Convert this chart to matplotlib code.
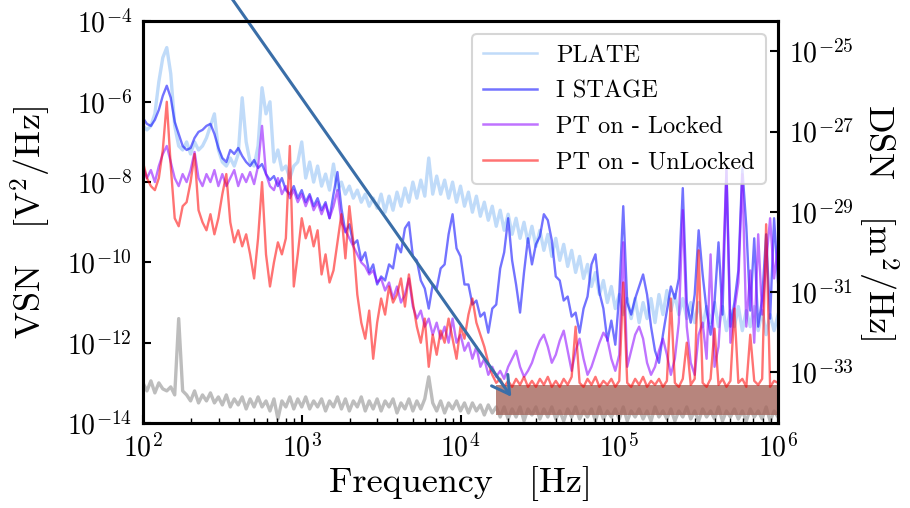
import numpy as np
import matplotlib
matplotlib.use('Agg')
import matplotlib.pyplot as plt
from matplotlib.ticker import LogLocator, NullLocator

plt.rcParams['font.family'] = 'cmr10'
plt.rcParams['mathtext.fontset'] = 'cm'
plt.rcParams['axes.formatter.use_mathtext'] = True

# frequency grid: 40 samples per decade, 1e2 .. 1e6 Hz
log_f = np.linspace(2, 6, 161)

# log10 of the spectra
plate_log = [
    -6.6, -6.7, -6.6, -6.3, -5.5, -4.9, -4.65, -5.3, -6.6, -7.1,
    -7.2, -7.0, -7.3, -7.0, -7.2, -7.1, -6.9, -6.6, -6.3, -7.2,
    -7.5, -7.6, -7.4, -7.6, -7.3, -5.9, -7.0, -7.5, -7.6, -7.1,
    -5.65, -6.3, -6.0, -7.5, -7.2, -7.7, -7.6, -7.9, -7.6, -7.5,
    -7.0, -7.9, -7.5, -8.0, -7.6, -8.1, -7.8, -8.2, -7.55, -8.2,
    -8.0, -8.3, -8.1, -8.4, -8.2, -8.5, -8.3, -8.6, -8.4, -8.65,
    -8.3, -8.75, -8.35, -8.7, -8.25, -8.6, -8.15, -8.5, -8.0, -8.4,
    -7.95, -8.35, -7.4, -8.3, -7.85, -8.3, -7.95, -8.4, -8.0, -8.5,
    -8.1, -8.6, -8.25, -8.75, -8.35, -8.85, -8.5, -8.95, -8.6, -9.1,
    -8.7, -9.2, -8.8, -9.3, -8.9, -9.4, -9.0, -9.5, -9.1, -9.6,
    -9.2, -9.7, -9.3, -9.85, -9.4, -9.95, -9.55, -10.1, -9.7, -10.25,
    -9.85, -10.4, -10.05, -10.6, -10.25, -10.8, -10.45, -11.0, -10.6, -11.15,
    -10.8, -11.3, -10.9, -11.4, -10.9, -11.5, -11.0, -11.4, -10.9, -11.5,
    -10.8, -11.3, -10.7, -11.2, -10.8, -11.3, -10.9, -11.4, -11.0, -11.5,
    -11.0, -11.6, -11.1, -11.5, -11.0, -11.6, -11.1, -11.7, -11.2, -11.6,
    -11.1, -11.7, -11.2, -11.6, -11.1, -11.7, -11.2, -11.8, -11.3, -11.7,
    -11.3,
]
stage_log = [
    -6.4, -6.55, -6.6, -6.45, -6.2, -5.85, -5.6, -5.9, -6.5, -6.8,
    -7.1, -7.2, -7.15, -6.9, -6.75, -6.7, -6.6, -6.55, -6.8, -7.15,
    -7.4, -7.5, -7.2, -7.3, -7.15, -7.35, -7.5, -7.6, -7.45, -7.65,
    -7.55, -7.8, -7.95, -7.85, -8.1, -7.9, -8.2, -8.3, -8.1, -8.4,
    -8.2, -8.5, -8.3, -8.6, -8.4, -8.7, -8.5, -8.9, -8.3, -7.75,
    -8.65, -9.25, -9.05, -9.55, -9.45, -9.95, -9.75, -10.25, -10.05, -10.55,
    -10.35, -10.45, -10.05, -10.15, -9.55, -9.75, -9.15, -9.0, -9.85, -9.95,
    -10.45, -10.65, -11.15, -10.55, -10.65, -10.15, -10.05, -9.3, -8.8, -9.65,
    -9.85, -10.55, -10.55, -11.05, -10.95, -11.35, -11.25, -11.75, -11.15, -11.05,
    -10.15, -9.75, -8.9, -9.95, -10.55, -11.25, -10.25, -9.4, -10.05, -9.55,
    -9.35, -8.8, -8.95, -9.45, -10.35, -10.45, -10.95, -10.85, -11.35, -11.25,
    -11.75, -11.15, -10.85, -10.05, -9.8, -10.75, -11.15, -11.95, -11.45, -12.05,
    -10.8, -8.6, -11.0, -11.3, -10.9, -10.6, -10.3, -10.8, -11.6, -12.2,
    -12.5, -11.8, -11.2, -10.6, -10.9, -10.4, -8.15, -11.0, -11.5, -10.8,
    -9.2, -10.3, -11.2, -11.8, -11.0, -9.5, -11.3, -7.65, -11.6, -11.0,
    -10.2, -7.65, -9.1, -11.2, -9.4, -11.6, -10.9, -9.3, -11.4, -8.9,
    -10.5,
]
locked_log = [
    -7.6, -7.9, -7.7, -8.0, -7.6, -7.3, -7.1, -7.5, -7.9, -8.1,
    -7.8, -8.0, -7.7, -7.25, -7.9, -8.1, -7.8, -8.0, -7.7, -8.1,
    -7.8, -8.1, -7.9, -7.7, -8.1, -7.8, -8.0, -7.75, -8.05, -7.6,
    -6.6, -7.8, -8.1, -8.2, -7.9, -8.3, -8.1, -8.4, -8.2, -8.5,
    -8.3, -8.6, -8.35, -8.7, -8.5, -8.8, -8.55, -8.9, -8.6, -8.2,
    -9.0, -9.2, -9.4, -9.6, -9.8, -10.0, -10.1, -10.3, -10.2, -10.5,
    -10.4, -10.7, -10.5, -10.9, -10.6, -11.0, -10.8, -10.4, -11.1, -11.4,
    -11.2, -11.6, -11.4, -11.8, -11.5, -11.9, -11.6, -12.0, -11.4, -12.0,
    -11.8, -12.2, -12.0, -12.4, -12.1, -12.6, -12.4, -12.8, -12.6, -12.85,
    -12.7, -12.9, -12.6, -12.4, -12.2, -12.6, -12.85, -12.7, -12.5, -12.2,
    -11.95, -11.8, -12.1, -12.5, -12.3, -11.95, -11.7, -12.2, -12.7, -12.2,
    -11.9, -12.4, -12.8, -12.6, -12.3, -12.0, -11.75, -11.9, -12.4, -12.7,
    -12.3, -9.5, -12.6, -12.2, -11.8, -11.6, -11.9, -12.5, -12.8, -12.6,
    -12.2, -11.9, -12.3, -12.8, -12.4, -11.5, -8.7, -11.6, -12.5, -12.8,
    -11.8, -11.5, -12.4, -9.8, -12.6, -12.1, -10.5, -7.7, -12.0, -11.2,
    -10.5, -7.8, -11.6, -10.2, -12.0, -9.3, -11.3, -10.0, -8.9, -10.4,
    -9.6,
]
unlocked_log = [
    -7.5, -7.9, -8.1, -8.2, -7.9, -7.2, -6.0, -7.6, -8.9, -9.1,
    -8.6, -8.5, -8.0, -7.3, -8.7, -9.0, -9.2, -8.8, -9.3, -8.9,
    -8.3, -7.8, -9.0, -9.5, -9.2, -9.6, -9.3, -9.8, -10.4, -9.4,
    -8.0, -9.8, -10.6, -10.0, -9.5, -9.8, -9.4, -7.1, -10.6, -9.8,
    -8.9, -9.4, -9.1, -9.6, -9.2, -10.3, -9.8, -10.5, -10.2, -9.5,
    -8.8, -9.9, -8.6, -9.5, -10.8, -11.5, -11.9, -11.2, -12.4, -11.5,
    -10.9, -11.3, -10.6, -11.0, -10.8, -10.4, -11.1, -10.3, -11.0, -11.6,
    -12.0, -11.4, -12.6, -11.8, -12.3, -11.7, -12.0, -11.4, -11.9, -12.4,
    -11.6, -11.9, -11.3, -10.9, -11.5, -11.8, -12.1, -12.5, -12.8, -13.0,
    -12.9, -13.1, -12.95, -13.1, -12.9, -13.05, -12.85, -13.1, -12.95, -13.1,
    -12.9, -13.05, -12.85, -13.1, -12.95, -13.1, -12.9, -13.05, -12.85, -11.6,
    -13.0, -13.1, -12.9, -13.05, -12.85, -13.1, -12.95, -13.05, -12.9, -13.1,
    -12.95, -10.5, -13.0, -13.1, -12.9, -13.05, -12.85, -13.1, -12.95, -13.05,
    -12.9, -13.1, -12.95, -10.9, -13.0, -13.1, -12.9, -12.0, -13.05, -12.9,
    -9.7, -13.0, -13.1, -12.9, -11.65, -13.05, -12.9, -13.1, -12.95, -11.15,
    -13.0, -12.9, -13.1, -11.8, -12.95, -13.05, -12.9, -9.05, -13.1, -12.95,
    -13.0,
]
# instrument background (grey trace)
background_log = [
    -13.0, -13.2, -12.95, -13.25, -13.0, -13.15, -13.2, -13.1, -13.3, -11.4,
    -13.2, -13.3, -13.45, -13.2, -13.5, -13.3, -13.45, -13.25, -13.5, -13.35,
    -13.55, -13.3, -13.6, -13.4, -13.55, -13.35, -13.65, -13.4, -13.6, -13.35,
    -13.6, -13.45, -13.7, -13.4, -13.9, -13.45, -13.6, -13.35, -13.65, -13.4,
    -13.6, -13.35, -13.65, -13.45, -13.6, -13.4, -13.7, -13.45, -13.6, -13.35,
    -13.65, -13.4, -13.7, -13.45, -13.6, -13.35, -13.7, -13.45, -13.65, -13.4,
    -13.7, -13.45, -13.6, -13.4, -13.75, -13.5, -13.65, -13.4, -13.7, -13.45,
    -13.65, -13.4, -12.85, -13.5, -13.7, -13.45, -13.75, -13.5, -13.65, -13.45,
    -13.7, -13.5, -13.75, -13.5, -13.7, -13.55, -13.8, -13.55, -13.75, -13.6,
    -13.85, -13.6, -13.9, -13.65, -13.85, -13.6, -13.95, -13.65, -13.8, -13.6,
    -13.9, -13.65, -13.85, -13.6, -13.9, -13.7, -13.95, -13.65, -13.85, -13.6,
    -13.9, -13.7, -13.85, -13.65, -13.95, -13.6, -13.9, -13.7, -13.85, -13.65,
    -13.9, -13.6, -13.95, -13.7, -13.85, -13.65, -13.9, -13.7, -13.95, -13.6,
    -13.85, -13.7, -13.9, -13.65, -13.95, -13.7, -13.85, -13.6, -13.9, -13.7,
    -13.95, -13.65, -13.85, -13.7, -13.9, -13.6, -13.95, -13.7, -13.85, -13.65,
    -13.9, -13.7, -13.95, -13.65, -13.85, -13.7, -13.9, -13.6, -13.95, -13.7,
    -13.85,
]

labels = ['PLATE', 'I STAGE', 'PT on - Locked', 'PT on - UnLocked']

# highlighted noise floor band
floor_start = 1.6e4
floor_top = 10 ** -13.05
floor_bottom = 10 ** -13.8

# arrow (tail outside the axes, head on the floor)
arrow_tail = (10 ** 2.523, 10 ** -3.22)
arrow_head = (2.09e4, 4.5e-14)

# displacement scale of the right axis
dsn_factor = 10 ** -20.26

freq = 10 ** log_f

fig = plt.figure(figsize=(9.1, 5.08), dpi=100)
ax = fig.add_axes([0.1571, 0.1673, 0.6979, 0.7904])

ax.plot(freq, 10 ** np.array(plate_log), color='#c0dbf9', lw=2.4, label=labels[0])
ax.plot(freq, 10 ** np.array(stage_log), color='#0000ff', alpha=0.55, lw=1.7, label=labels[1])
ax.plot(freq, 10 ** np.array(locked_log), color='#8b00ff', alpha=0.55, lw=1.7, label=labels[2])
ax.plot(freq, 10 ** np.array(background_log), color='#bdbdbd', lw=2.4, zorder=1.5)
mask = freq >= floor_start
ax.fill_between(freq[mask], floor_bottom, floor_top, color='#a5675d', alpha=0.8,
                lw=0, zorder=1.8)
ax.plot(freq, 10 ** np.array(unlocked_log), color='#ff0000', alpha=0.55, lw=1.7, label=labels[3])

ax.annotate('', xy=arrow_head, xytext=arrow_tail, annotation_clip=False,
            arrowprops=dict(arrowstyle='->,head_length=0.4,head_width=0.23',
                            color='#3a6ea8', lw=2.2, mutation_scale=31,
                            shrinkA=0, shrinkB=0))

ax.set_xscale('log')
ax.set_yscale('log')
ax.set_xlim(1e2, 1e6)
ax.set_ylim(1e-14, 1e-4)
ax.set_xticks([1e2, 1e3, 1e4, 1e5, 1e6])
ax.xaxis.set_minor_locator(LogLocator(base=10, subs=np.arange(2, 10)))
ax.set_yticks([1e-14, 1e-12, 1e-10, 1e-8, 1e-6, 1e-4])
ax.yaxis.set_minor_locator(NullLocator())
ax.tick_params(which='both', direction='in', top=False, right=False, labelsize=20)
ax.tick_params(which='major', length=6, width=1.5, pad=8)
ax.tick_params(which='minor', length=3.5, width=1.0)
for s in ax.spines.values():
    s.set_linewidth(2.2)

ax.set_xlabel('Frequency   [Hz]', fontsize=26, labelpad=2)
ax.set_ylabel('VSN   [V$^2$/Hz]', fontsize=26, labelpad=10)

ax2 = ax.twinx()
ax2.set_yscale('log')
ax2.set_ylim(1e-14 * dsn_factor, 1e-4 * dsn_factor)
ax2.set_yticks([1e-33, 1e-31, 1e-29, 1e-27, 1e-25])
ax2.yaxis.set_minor_locator(NullLocator())
ax2.tick_params(which='both', direction='in', labelsize=20, length=6, width=1.5, pad=8)
for s in ax2.spines.values():
    s.set_linewidth(2.2)
ax2.set_ylabel('DSN   [m$^2$/Hz]', fontsize=26, rotation=270, labelpad=33)

leg = ax.legend(loc='upper right', fontsize=17.5, framealpha=0.8, edgecolor='0.8',
                handlelength=2.2, borderpad=0.45, labelspacing=0.55)
leg.get_frame().set_linewidth(1.5)
for line in leg.get_lines():
    line.set_linewidth(1.8)

fig.savefig('out.png', dpi=100)
